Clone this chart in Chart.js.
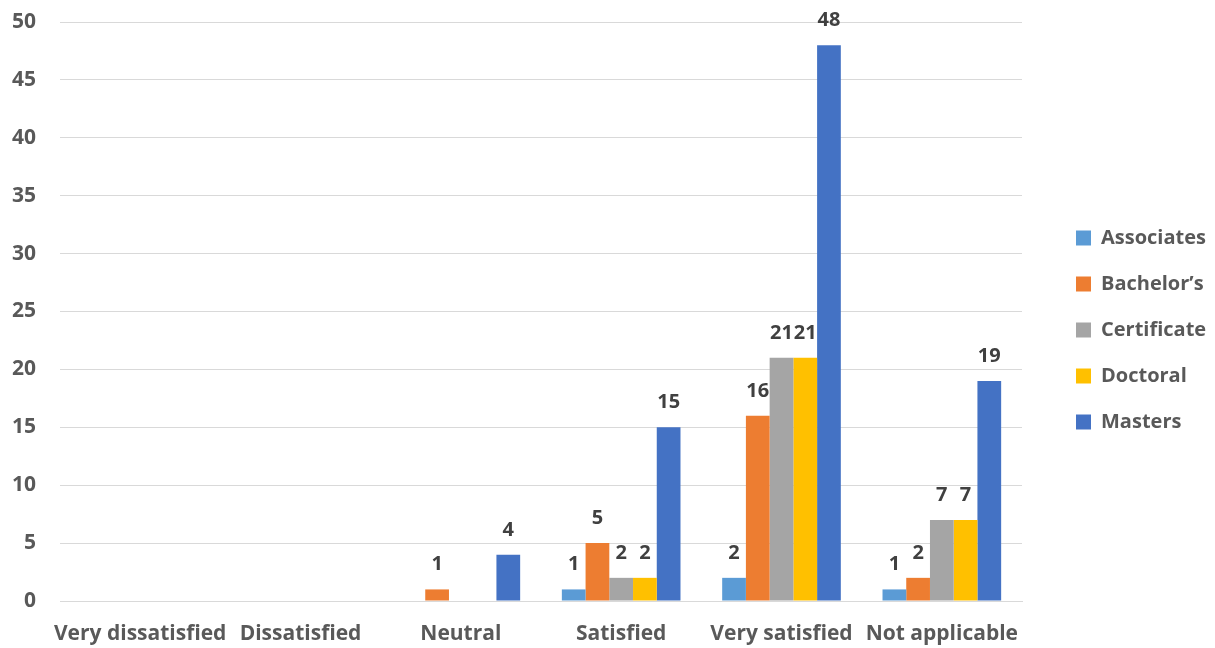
<!DOCTYPE html>
<html>
<head>
<meta charset="utf-8">
<script src="https://cdn.jsdelivr.net/npm/chart.js@4"></script>
<style>
html,body{margin:0;padding:0;background:#fff;}
#wrap{width:1215px;height:648px;}
</style>
</head>
<body>
<div id="wrap"><canvas id="c" width="1215" height="648"></canvas></div>
<script>
const categories = ["Very dissatisfied", "Dissatisfied", "Neutral", "Satisfied", "Very satisfied", "Not applicable"];
const associates  = [null, null, null, 1, 2, 1];
const bachelors   = [null, null, 1, 5, 16, 2];
const certificate = [null, null, null, 2, 21, 7];
const doctoral    = [null, null, null, 2, 21, 7];
const masters     = [null, null, 4, 15, 48, 19];
const seriesNames = ["Associates", "Bachelor\u2019s", "Certificate", "Doctoral", "Masters"];
const seriesColors = ["#5b9bd5", "#ed7d31", "#a5a5a5", "#ffc000", "#4472c4"];
const yTicks = [0, 5, 10, 15, 20, 25, 30, 35, 40, 45, 50];

const FONT = "'Open Sans', 'Liberation Sans', sans-serif";

const valueLabels = {
  id: "valueLabels",
  afterDatasetsDraw(chart) {
    const ctx = chart.ctx;
    ctx.save();
    ctx.font = "bold 20px " + FONT;
    ctx.fillStyle = "#404040";
    ctx.textAlign = "center";
    ctx.textBaseline = "alphabetic";
    chart.data.datasets.forEach((ds, i) => {
      const meta = chart.getDatasetMeta(i);
      meta.data.forEach((bar, j) => {
        const v = ds.data[j];
        if (v === null || v === undefined) return;
        ctx.fillText(String(v), bar.x, bar.y - 19);
      });
    });
    ctx.restore();
  }
};

const LEGEND_W = 193;
const LEGEND_DX = 28;
const LEGEND_DY = -5;
const legendGap = {
  id: "legendGap",
  beforeInit(chart) {
    const lg = chart.legend;
    const origFit = lg.fit;
    lg.fit = function () {
      origFit.call(this);
      this.width = LEGEND_W;
    };
    const origDraw = lg.draw;
    lg.draw = function () {
      const ctx = this.ctx;
      ctx.save();
      ctx.translate(LEGEND_DX, LEGEND_DY);
      origDraw.call(this);
      ctx.restore();
    };
  }
};

const datasets = [associates, bachelors, certificate, doctoral, masters].map((d, i) => ({
  label: seriesNames[i],
  data: d,
  backgroundColor: seriesColors[i],
  borderWidth: 0,
  categoryPercentage: 0.74,
  barPercentage: 1.0
}));

new Chart(document.getElementById("c"), {
  type: "bar",
  data: { labels: categories, datasets },
  options: {
    responsive: false,
    animation: false,
    layout: { padding: { top: 22, right: 0, left: 10, bottom: 0 } },
    plugins: {
      legend: {
        position: "right",
        labels: {
          boxWidth: 15,
          boxHeight: 15,
          padding: 26,
          color: "#595959",
          font: { family: FONT, size: 20, weight: "bold" }
        }
      },
      tooltip: { enabled: false }
    },
    scales: {
      x: {
        afterFit(s) { s.paddingLeft = 0; s.paddingRight = 0; s.height = 47; },
        grid: { display: false, drawTicks: false },
        border: { display: true, color: "#d9d9d9", width: 1 },
        ticks: {
          color: "#595959",
          padding: 20,
          maxRotation: 0,
          autoSkip: false,
          font: { family: FONT, size: 21, weight: "bold" }
        }
      },
      y: {
        min: 0,
        max: 50,
        afterFit(s) { s.paddingTop = 0; s.paddingBottom = 0; s.width = 50; },
        afterBuildTicks(axis) { axis.ticks = yTicks.map(v => ({ value: v })); },
        grid: { color: "#d9d9d9", lineWidth: 1, drawTicks: false },
        border: { display: false },
        ticks: {
          color: "#595959",
          padding: 24,
          font: { family: FONT, size: 21, weight: "bold" }
        }
      }
    }
  },
  plugins: [valueLabels, legendGap]
});
</script>
</body>
</html>
